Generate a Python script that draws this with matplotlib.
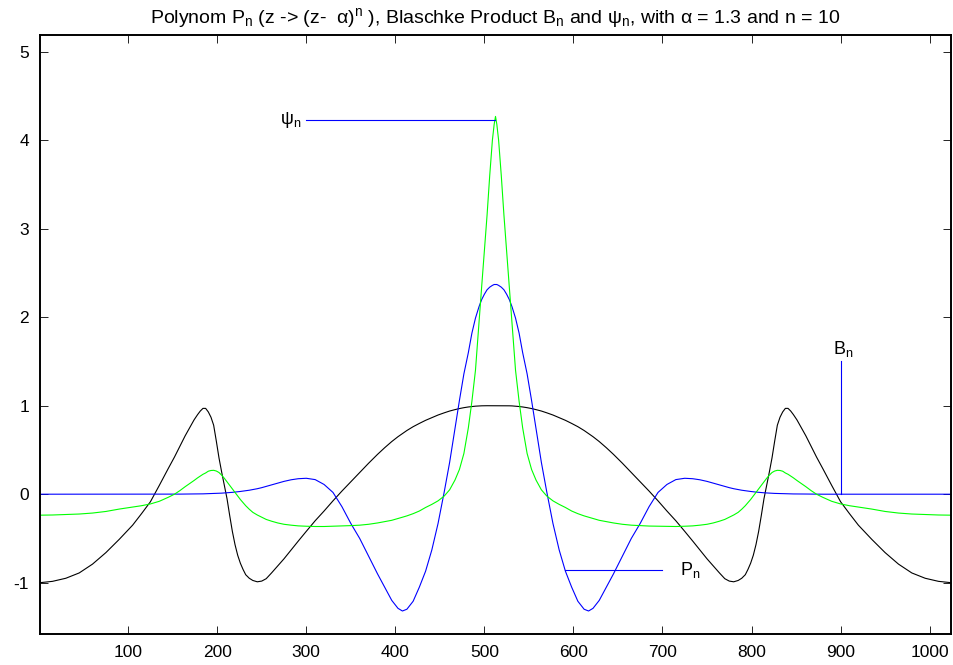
import matplotlib
matplotlib.use('Agg')
import matplotlib.pyplot as plt

plt.rcParams['font.family'] = ['Liberation Sans', 'DejaVu Sans']
plt.rcParams['mathtext.fontset'] = 'custom'
plt.rcParams['mathtext.rm'] = 'Liberation Sans'
plt.rcParams['mathtext.it'] = 'Liberation Sans'
plt.rcParams['axes.unicode_minus'] = False

# sample positions (index 1..1024)
x = [1, 15, 30, 45, 60, 75, 90, 105, 115, 125,
     135, 145, 152, 158, 164, 169, 174, 178, 181, 184,
     187, 190, 193, 196, 199, 202, 205, 208, 211, 214,
     217, 220, 223, 226, 229, 232, 236, 240, 245, 250,
     255, 261, 268, 275, 283, 291, 300, 310, 320, 330,
     340, 350, 360, 370, 380, 388, 396, 403, 408, 413,
     420, 427, 434, 441, 448, 455, 461, 467, 472, 477,
     482, 486, 490, 494, 497, 500, 503, 506, 509, 511,
     512.5,
     514, 516, 519, 522, 525, 528, 531, 535, 539, 543,
     548, 553, 558, 564, 570, 577, 584, 591, 598, 605,
     612, 617, 622, 629, 637, 645, 655, 665, 675, 685,
     695, 705, 715, 725, 734, 742, 750, 757, 764, 770,
     775, 780, 785, 789, 793, 796, 799, 802, 805, 808,
     811, 814, 817, 820, 823, 826, 829, 832, 835, 838,
     841, 844, 847, 851, 856, 861, 867, 873, 880, 890,
     900, 910, 920, 935, 950, 965, 980, 995, 1010, 1024]

# Blaschke product B_n (black)
blaschke = [-1.000, -0.985, -0.95, -0.89, -0.79, -0.66, -0.51, -0.35, -0.22, -0.085,
            0.10, 0.29, 0.42, 0.54, 0.66, 0.75, 0.84, 0.90, 0.94, 0.97,
            0.97, 0.93, 0.87, 0.78, 0.60, 0.41, 0.25, 0.10, -0.05, -0.24,
            -0.42, -0.57, -0.69, -0.78, -0.85, -0.91, -0.95, -0.975, -0.99, -0.982,
            -0.955, -0.89, -0.81, -0.73, -0.63, -0.53, -0.42, -0.30, -0.19, -0.075,
            0.035, 0.14, 0.245, 0.35, 0.45, 0.525, 0.595, 0.65, 0.685, 0.72,
            0.763, 0.80, 0.835, 0.865, 0.895, 0.92, 0.94, 0.956, 0.968, 0.978,
            0.986, 0.991, 0.995, 0.998, 0.999, 1.0, 1.0, 1.0, 1.0, 1.0,
            1.0,
            1.0, 1.0, 1.0, 1.0, 1.0, 0.999, 0.998, 0.995, 0.991, 0.986,
            0.978, 0.968, 0.956, 0.94, 0.92, 0.895, 0.865, 0.835, 0.80, 0.763,
            0.72, 0.685, 0.65, 0.595, 0.525, 0.45, 0.35, 0.245, 0.14, 0.035,
            -0.075, -0.19, -0.30, -0.42, -0.53, -0.63, -0.73, -0.81, -0.89, -0.955,
            -0.982, -0.99, -0.975, -0.95, -0.91, -0.85, -0.78, -0.69, -0.57, -0.42,
            -0.24, -0.05, 0.10, 0.25, 0.41, 0.60, 0.78, 0.87, 0.93, 0.97,
            0.97, 0.94, 0.90, 0.84, 0.75, 0.66, 0.54, 0.42, 0.29, 0.10,
            -0.085, -0.22, -0.35, -0.51, -0.66, -0.79, -0.89, -0.95, -0.985, -1.000]

# polynomial P_n (blue)
poly = [0.0, 0.0, 0.0, 0.0, 0.0, 0.0, 0.0, 0.0, 0.0, 0.0,
        0.0, 0.0, 0.001, 0.001, 0.002, 0.002, 0.003, 0.003, 0.004, 0.004,
        0.005, 0.006, 0.007, 0.008, 0.009, 0.010, 0.012, 0.014, 0.016, 0.018,
        0.021, 0.024, 0.027, 0.031, 0.035, 0.039, 0.045, 0.052, 0.062, 0.074,
        0.088, 0.105, 0.125, 0.145, 0.163, 0.175, 0.18, 0.165, 0.11, 0.02,
        -0.14, -0.33, -0.50, -0.70, -0.90, -1.05, -1.20, -1.29, -1.32, -1.30,
        -1.21, -1.05, -0.87, -0.63, -0.33, 0.03, 0.36, 0.74, 1.06, 1.36,
        1.60, 1.82, 1.99, 2.12, 2.20, 2.26, 2.31, 2.34, 2.36, 2.37,
        2.37,
        2.37, 2.36, 2.34, 2.31, 2.26, 2.20, 2.12, 1.99, 1.82, 1.60,
        1.36, 1.06, 0.74, 0.36, 0.03, -0.33, -0.63, -0.87, -1.05, -1.21,
        -1.30, -1.32, -1.29, -1.20, -1.05, -0.90, -0.70, -0.50, -0.33, -0.14,
        0.02, 0.11, 0.165, 0.18, 0.175, 0.163, 0.145, 0.125, 0.105, 0.088,
        0.074, 0.062, 0.052, 0.045, 0.039, 0.035, 0.031, 0.027, 0.024, 0.021,
        0.018, 0.016, 0.014, 0.012, 0.010, 0.009, 0.008, 0.007, 0.006, 0.005,
        0.004, 0.004, 0.003, 0.003, 0.002, 0.002, 0.001, 0.001, 0.0, 0.0,
        0.0, 0.0, 0.0, 0.0, 0.0, 0.0, 0.0, 0.0, 0.0, 0.0]

# psi_n (green)
psi = [-0.237, -0.235, -0.23, -0.224, -0.213, -0.195, -0.168, -0.145, -0.13, -0.11,
       -0.08, -0.035, 0.0, 0.04, 0.085, 0.12, 0.155, 0.185, 0.205, 0.225,
       0.24, 0.26, 0.268, 0.27, 0.262, 0.245, 0.215, 0.18, 0.14, 0.10,
       0.06, 0.02, -0.02, -0.06, -0.095, -0.13, -0.17, -0.205, -0.235, -0.26,
       -0.285, -0.305, -0.325, -0.34, -0.35, -0.358, -0.362, -0.365, -0.365, -0.362,
       -0.36, -0.355, -0.35, -0.34, -0.325, -0.31, -0.295, -0.275, -0.26, -0.245,
       -0.22, -0.19, -0.15, -0.115, -0.075, -0.02, 0.05, 0.16, 0.28, 0.46,
       0.75, 1.05, 1.40, 1.95, 2.35, 2.75, 3.15, 3.6, 4.0, 4.18,
       4.27,
       4.18, 4.0, 3.6, 3.15, 2.75, 2.35, 1.95, 1.40, 1.05, 0.75,
       0.46, 0.28, 0.16, 0.05, -0.02, -0.075, -0.115, -0.15, -0.19, -0.22,
       -0.245, -0.26, -0.275, -0.295, -0.31, -0.325, -0.34, -0.35, -0.355, -0.36,
       -0.362, -0.365, -0.365, -0.362, -0.358, -0.35, -0.34, -0.325, -0.305, -0.285,
       -0.26, -0.235, -0.205, -0.17, -0.13, -0.095, -0.06, -0.02, 0.02, 0.06,
       0.10, 0.14, 0.18, 0.215, 0.245, 0.262, 0.27, 0.268, 0.26, 0.24,
       0.225, 0.205, 0.185, 0.155, 0.12, 0.085, 0.04, 0.0, -0.035, -0.08,
       -0.11, -0.13, -0.145, -0.168, -0.195, -0.213, -0.224, -0.23, -0.235, -0.237]

xticks = [100, 200, 300, 400, 500, 600, 700, 800, 900, 1000]
yticks = [-1, 0, 1, 2, 3, 4, 5]

fig = plt.figure(figsize=(9.54, 6.65), dpi=100)
ax = fig.add_axes([40/954, 31/665, 911/954, 599/665])

ax.plot(x, blaschke, color='k', lw=0.8)
ax.plot(x, poly, color='#0000ff', lw=0.8)
ax.plot(x, psi, color='#00ff00', lw=0.8)

# annotations
ax.plot([300, 512], [4.23, 4.23], color='#0000ff', lw=0.8)
ax.text(270, 4.23, r'ψ$_\mathrm{n}$', fontsize=13, va='center')
ax.plot([590, 700], [-0.86, -0.86], color='#0000ff', lw=0.8)
ax.text(720, -0.86, r'P$_\mathrm{n}$', fontsize=13, va='center')
ax.plot([900, 900], [0, 1.5], color='#0000ff', lw=0.8)
ax.text(891, 1.64, r'B$_\mathrm{n}$', fontsize=13, va='center')

ax.set_xlim(1, 1024)
ax.set_ylim(-1.58, 5.19)
ax.set_xticks(xticks)
ax.set_yticks(yticks)
ax.tick_params(direction='in', length=6, width=0.6, top=True, right=True,
               labelsize=12.5, pad=8)
for s in ax.spines.values():
    s.set_linewidth(1.4)

ax.set_title(r'Polynom P$_\mathrm{n}$ (z -> (z-  α)$^\mathrm{n}$ ), Blaschke Product B$_\mathrm{n}$'
             r' and ψ$_\mathrm{n}$, with α = 1.3 and n = 10', fontsize=14, pad=9)

fig.savefig('out.png', dpi=100)
